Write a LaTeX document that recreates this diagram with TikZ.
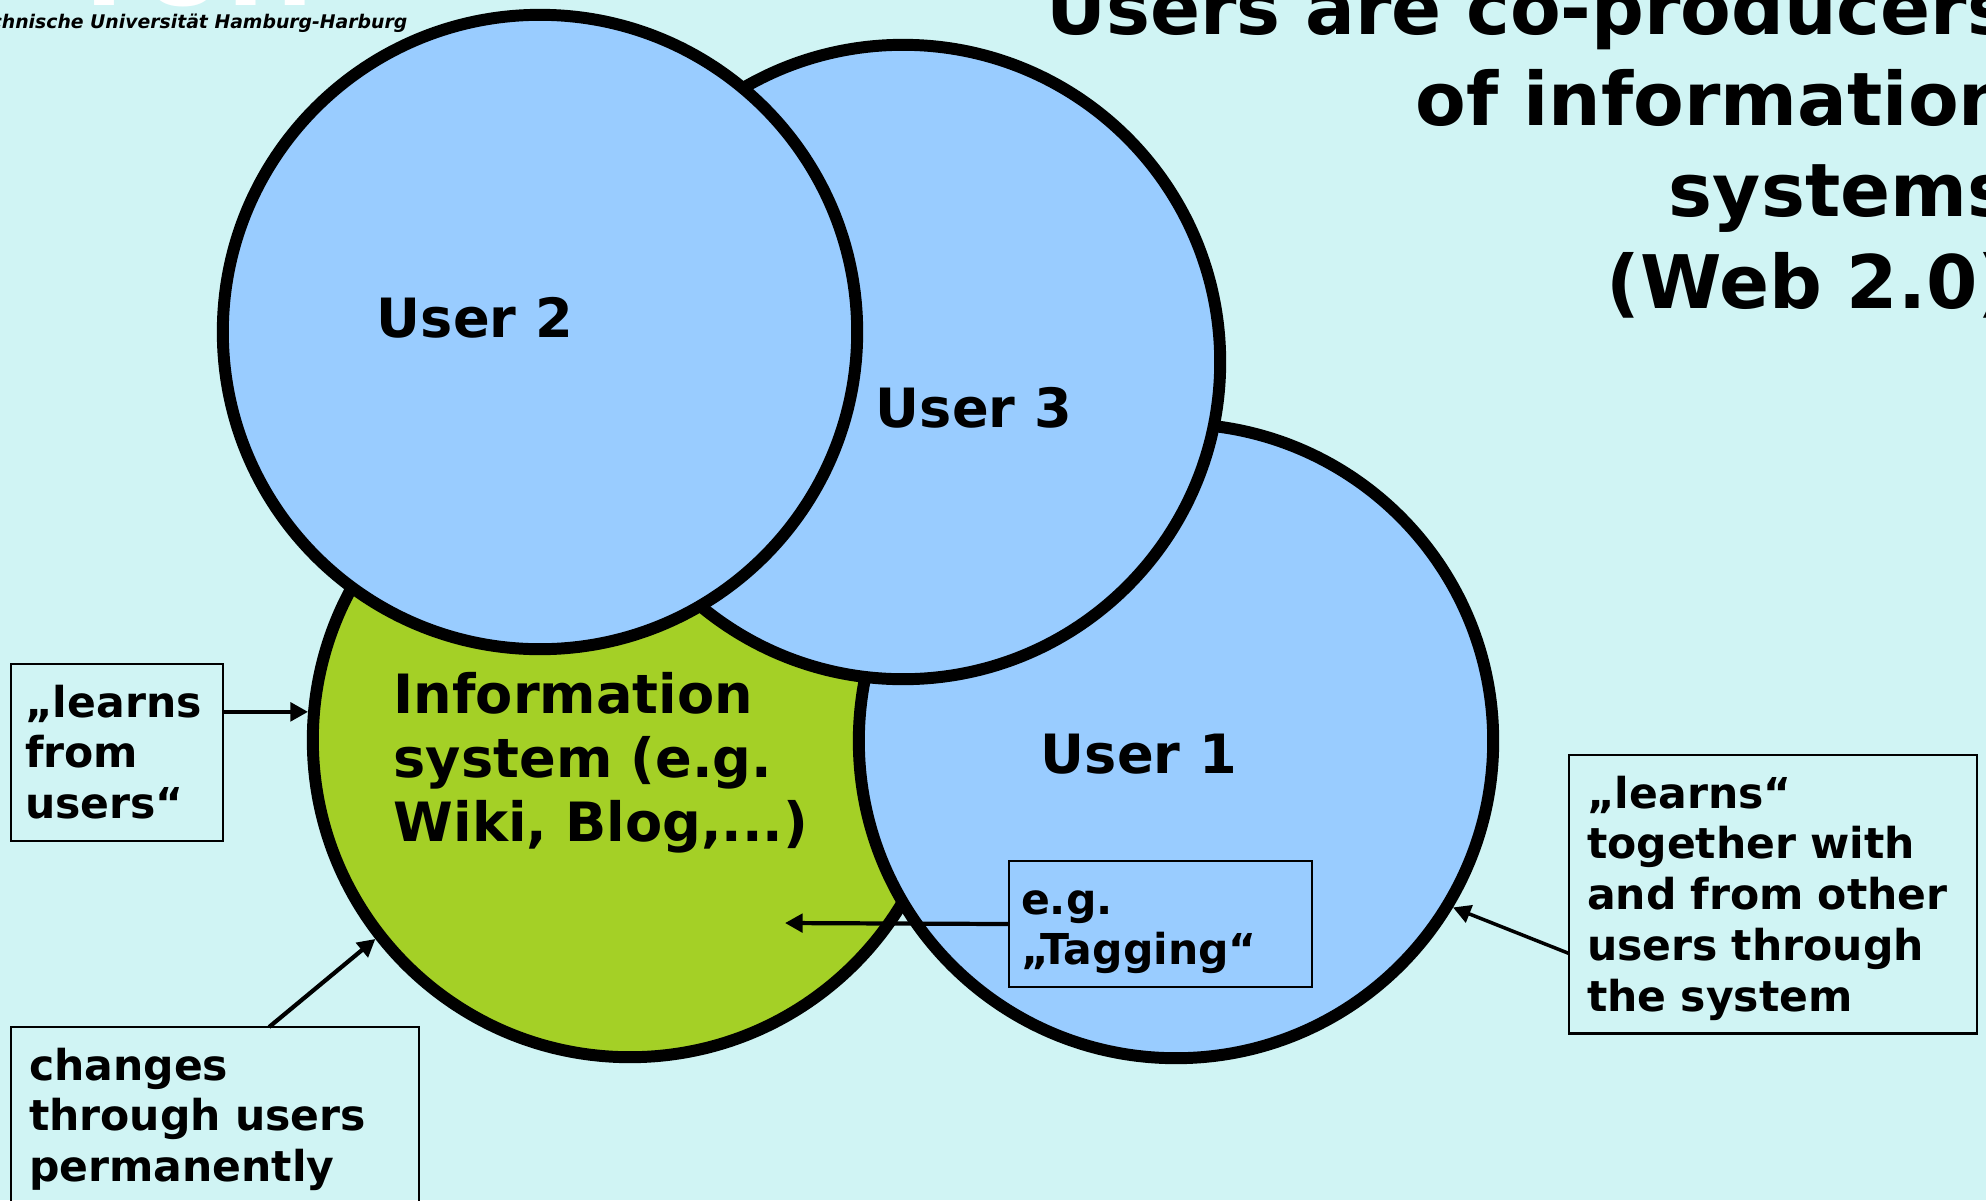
\documentclass[tikz,border=0pt]{standalone}
\usepackage{fontspec}
\setmainfont{DejaVu Sans}
\usetikzlibrary{arrows.meta, calc}
\definecolor{pagecyan}{RGB}{208,244,244}
\definecolor{userblue}{RGB}{153,204,255}
\definecolor{sysgreen}{RGB}{164,208,38}
\newcommand{\notestrut}{\rule[-0.09cm]{0pt}{0.49cm}}
\tikzset{
    ring/.style={circle, draw, line width=3.4pt, minimum size=6.34cm,
        inner sep=0pt},
    userring/.style={ring, fill=userblue},
    sysring/.style={ring, fill=sysgreen},
    ringtext/.style={inner sep=0pt,
        font=\fontsize{15.4}{18.1}\selectfont\bfseries},
    notebox/.style={draw, line width=0.6pt, anchor=north west, align=left,
        inner ysep=0.13cm, outer sep=0pt,
        font=\fontsize{12.1}{14.45}\selectfont\bfseries,
        execute at begin node=\notestrut, execute at end node=\notestrut},
    pointer/.style={line width=1.2pt, -{Triangle[length=5pt, width=5.2pt]}},
}

\begin{document}
\begin{tikzpicture}[x=0.01cm, y=-0.01cm] % pixel coordinates, y down
    \path[use as bounding box] (0,0) rectangle (1986,1200);
    \clip (0,0) rectangle (1986,1200);
    \fill[pagecyan] (0,0) rectangle (1986,1200);

    % Header: logo (cut off), university, title
    \node[anchor=base west, inner sep=0pt, white,
        font=\fontsize{30}{30}\selectfont\bfseries] (logo) at (68,5) {TUH};
    \node[anchor=base east, inner sep=0pt,
        font=\fontsize{5.35}{6}\selectfont\bfseries\itshape] (uni) at (408,28)
        {Technische Universität Hamburg-Harburg};
    \node[anchor=north east, align=right, text width=12cm, inner sep=0pt,
        font=\fontsize{21}{25.9}\selectfont\bfseries] (title) at (2012,-22)
        {Users are co-producers\\of information\\systems\\(Web 2.0)};

    % Circles, bottom one first
    \node[sysring] (isys) at (630,740) {};
    \foreach \name/\pos in {user1/{(1176,741)}, user3/{(903,362)},
        user2/{(540,332)}}
        \node[userring] (\name) at \pos {};

    \foreach \name/\pos/\txt in {u1text/{(1139,773)}/User 1,
        u3text/{(974,427)}/User 3, u2text/{(475,337)}/User 2}
        \node[ringtext, anchor=base] (\name) at \pos {\txt};
    \node[ringtext, anchor=north west, align=left, text width=5cm] (systext)
        at (393,672) {Information\\system (e.g.\\Wiki, Blog,...)};

    % Notes
    \node[notebox, inner xsep=0.14cm, text width=1.84cm] (learnbox)
        at (11,664) {„learns\\from\\users“};
    \node[notebox, inner xsep=0.12cm, text width=2.79cm] (tagbox)
        at (1009,861) {e.g.\\„Tagging“};
    \node[notebox, inner xsep=0.18cm, text width=3.72cm] (peerbox)
        at (1569,755) {„learns“\\together with\\and from other\\users through\\the system};
    \node[notebox, inner xsep=0.18cm, text width=3.72cm] (changebox)
        at (11,1027) {changes\\through users\\permanently};

    % Arrows
    \coordinate (tagtip) at (785,923);
    \draw[pointer] (learnbox.east |- isys.175) -- (isys.175);
    \draw[pointer] (tagbox.west) -- (tagtip);
    \draw[pointer, line width=1pt] ($(peerbox.south west)+(0,-80)$)
        -- (user1.-31);
    \draw[pointer] ($(changebox.north)+(54,0)$) -- (isys.218);
\end{tikzpicture}
\end{document}
